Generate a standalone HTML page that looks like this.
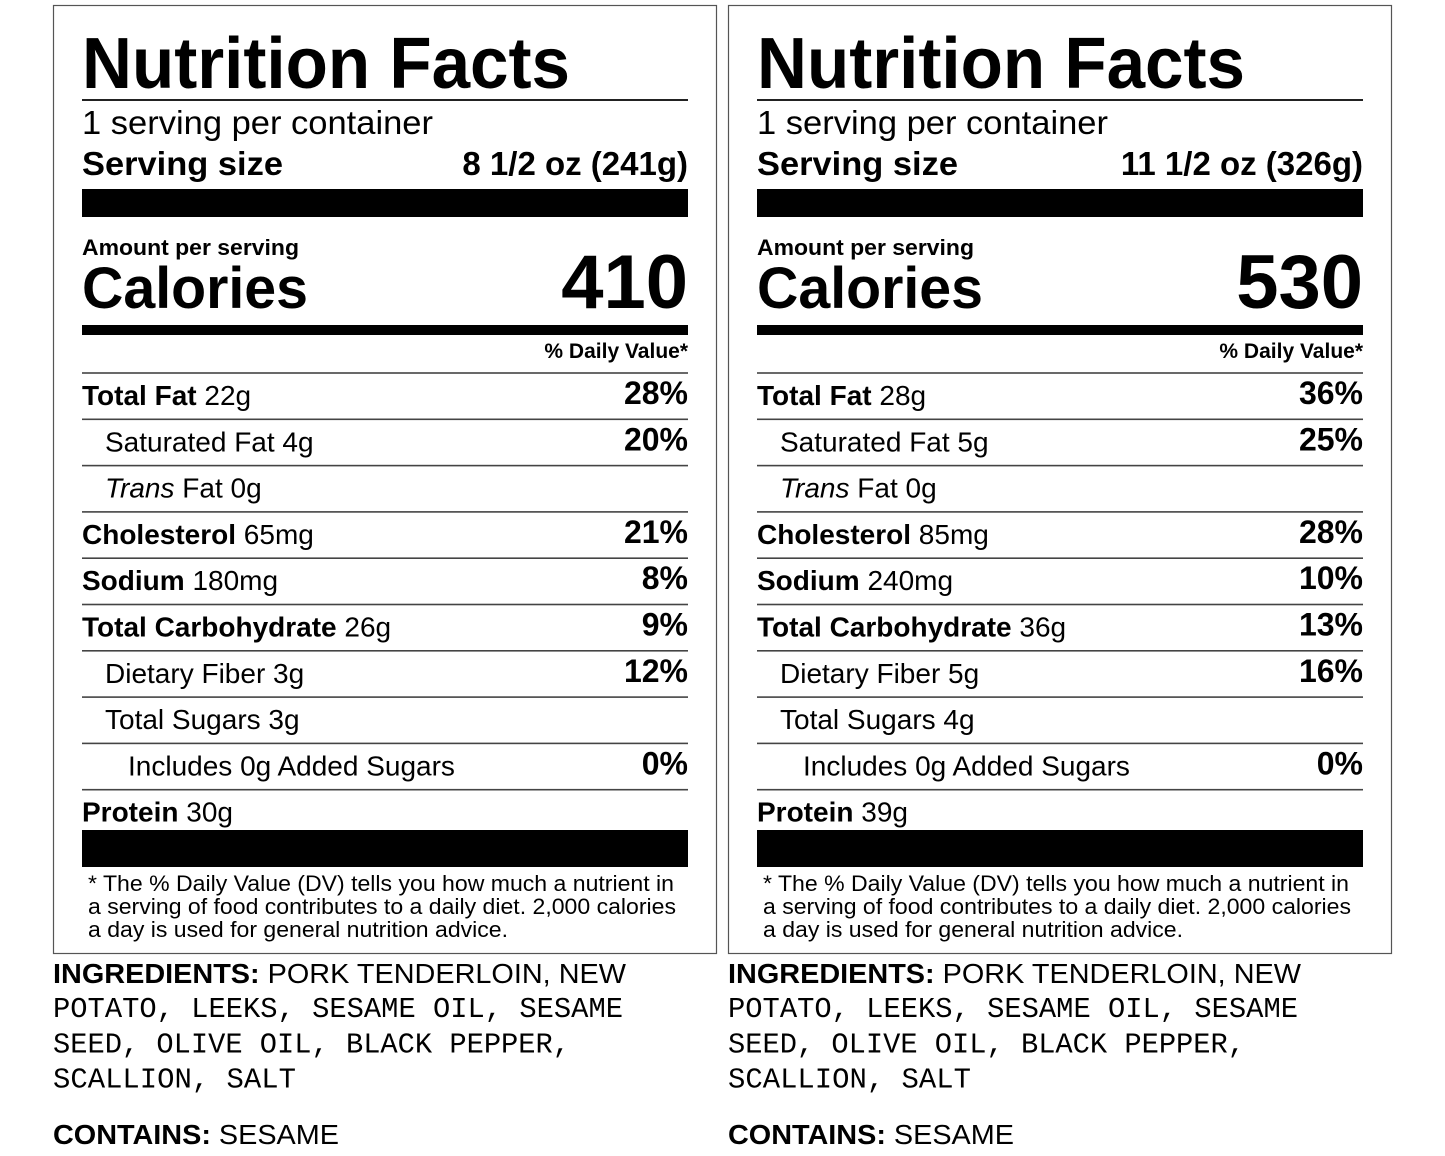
<!DOCTYPE html>
<html><head><meta charset="utf-8"><style>
html,body{margin:0;padding:0;background:#fff;}
svg{display:block;font-family:"Liberation Sans",sans-serif;}
</style></head><body>
<svg id="s" width="1445" height="1156" viewBox="0 0 1445 1156" xmlns="http://www.w3.org/2000/svg"></svg>
<script>
const servingSizes = ["8 1/2 oz (241g)", "11 1/2 oz (326g)"];
const calories = ["410", "530"];
const rowNames = ["Total Fat", "Saturated Fat", "Trans Fat", "Cholesterol", "Sodium", "Total Carbohydrate", "Dietary Fiber", "Total Sugars", "Includes 0g Added Sugars", "Protein"];
const amountsA = ["22g", "4g", "0g", "65mg", "180mg", "26g", "3g", "3g", "", "30g"];
const amountsB = ["28g", "5g", "0g", "85mg", "240mg", "36g", "5g", "4g", "", "39g"];
const pctA = ["28%", "20%", "", "21%", "8%", "9%", "12%", "", "0%", ""];
const pctB = ["36%", "25%", "", "28%", "10%", "13%", "16%", "", "0%", ""];
const rowBold = [1,0,0,1,1,1,0,0,0,1];
const rowIndent = [0,1,1,0,0,0,1,1,2,0];
const NS = "http://www.w3.org/2000/svg";
const svg = document.getElementById('s');
function mk(tag, attrs, parent){const e=document.createElementNS(NS,tag);for(const k in attrs)e.setAttribute(k,attrs[k]);(parent||svg).appendChild(e);return e;}
function txt(x,y,str,size,weight,parent,extra){const t=mk('text',Object.assign({x:x,y:y,'font-size':size,'font-weight':weight||'normal',fill:'#000'},extra||{}),parent);t.textContent=str;return t;}
const amounts=[amountsA,amountsB], pcts=[pctA,pctB];
for(let p=0;p<2;p++){
  const dx=p*675;
  const g=mk('g',{transform:'translate('+dx+',0)'});
  
  
  const box=mk('rect',{x:53.5,y:5.5,width:663,height:948,fill:'none',stroke:'#555','stroke-width':1.2},g);
  
  
  const t=txt(82,88,'Nutrition Facts',72,'bold',g,{textLength:488,lengthAdjust:'spacingAndGlyphs'});
  
  
  mk('rect',{x:82,y:99,width:606,height:2,fill:'#222'},g);
  const sp=txt(82,134,'1 serving per container',33,'normal',g,{textLength:351,lengthAdjust:'spacingAndGlyphs'});
  
  
  const ss=txt(82,175,'Serving size',33,'bold',g,{textLength:201,lengthAdjust:'spacingAndGlyphs'});
  
  
  const sv=txt(688,175,servingSizes[p],33,'bold',g,{'text-anchor':'end'});
  
  
  mk('rect',{x:82,y:189,width:606,height:28,fill:'#000'},g);
  const ap=txt(82,255,'Amount per serving',22,'bold',g,{textLength:217,lengthAdjust:'spacingAndGlyphs'});
  
  
  const cl=txt(82,308,'Calories',58,'bold',g,{textLength:226,lengthAdjust:'spacingAndGlyphs'});
  
  
  const cv=txt(688,308,calories[p],76,'bold',g,{'text-anchor':'end'});
  
  
  mk('rect',{x:82,y:325,width:606,height:10,fill:'#000'},g);
  const dv=txt(688,358,'% Daily Value*',21,'bold',g,{'text-anchor':'end'});
  
  
  for(let i=0;i<rowNames.length;i++){
    const top=373+i*46.3;
    mk('rect',{x:82,y:top-0.8,width:606,height:1.6,fill:'#444'},g);
    const base=top+32;
    const x=82+rowIndent[i]*23;
    const tx=mk('text',{x:x,y:base,'font-size':28,fill:'#000'},g);
    
    
    const nm=mk('tspan',{'font-weight':rowBold[i]?'bold':'normal'},tx);
    if(rowNames[i]==='Trans Fat'){const it=mk('tspan',{'font-style':'italic'},nm);it.textContent='Trans';const r=mk('tspan',{},nm);r.textContent=' Fat';}
    else nm.textContent=rowNames[i];
    if(amounts[p][i]){const am=mk('tspan',{},tx);am.textContent=' '+amounts[p][i];}
    if(pcts[p][i]){
      const pc=txt(688,base-1,pcts[p][i],32,'bold',g,{'text-anchor':'end'});
      
      
    }
  }
  mk('rect',{x:82,y:830,width:606,height:37,fill:'#000'},g);
  const fl=[['* The % Daily Value (DV) tells you how much a nutrient in',586],['a serving of food contributes to a daily diet. 2,000 calories',588],['a day is used for general nutrition advice.',420]];
  for(let j=0;j<3;j++){
    const f=txt(88,891+j*23,fl[j][0],22,'normal',g,{textLength:fl[j][1],lengthAdjust:'spacingAndGlyphs'});
    
    
  }
  const ing=mk('text',{x:53,y:983,'font-size':28,fill:'#000',textLength:573,lengthAdjust:'spacingAndGlyphs'},g);
  
  
  const ib=mk('tspan',{'font-weight':'bold'},ing);ib.textContent='INGREDIENTS:';
  const ir=mk('tspan',{},ing);ir.textContent=' PORK TENDERLOIN, NEW';
  const ml=[['POTATO, LEEKS, SESAME OIL, SESAME',570],['SEED, OLIVE OIL, BLACK PEPPER,',517],['SCALLION, SALT',243]];
  for(let j=0;j<3;j++){
    const m=txt(53,1017+j*35.3,ml[j][0],28.5,'normal',g,{'font-family':'"Liberation Mono",monospace',textLength:ml[j][1],lengthAdjust:'spacingAndGlyphs'});
    
    
  }
  const ct=mk('text',{x:53,y:1144,'font-size':28,fill:'#000',textLength:286,lengthAdjust:'spacingAndGlyphs'},g);
  
  
  const cb=mk('tspan',{'font-weight':'bold'},ct);cb.textContent='CONTAINS:';
  const cr=mk('tspan',{},ct);cr.textContent=' SESAME';
}
</script>
</body></html>
